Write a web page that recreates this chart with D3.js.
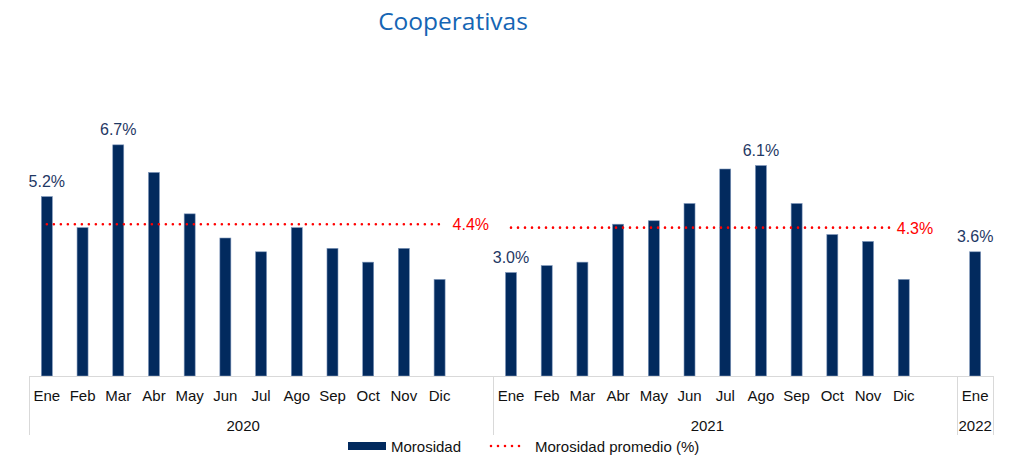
<!DOCTYPE html>
<html>
<head>
<meta charset="utf-8">
<script src="https://cdn.jsdelivr.net/npm/d3@7"></script>
<style>
  html, body { margin: 0; padding: 0; background: #fff; }
  svg { display: block; }
</style>
</head>
<body>
<svg id="chart" width="1017" height="456"></svg>
<script>
// Morosidad mensual de cooperativas
const years = ["2020", "2021", "2022"];
const months2020 = ["Ene", "Feb", "Mar", "Abr", "May", "Jun", "Jul", "Ago", "Sep", "Oct", "Nov", "Dic"];
const values2020 = [5.2, 4.3, 6.7, 5.9, 4.7, 4.0, 3.6, 4.3, 3.7, 3.3, 3.7, 2.8];
const months2021 = ["Ene", "Feb", "Mar", "Abr", "May", "Jun", "Jul", "Ago", "Sep", "Oct", "Nov", "Dic"];
const values2021 = [3.0, 3.2, 3.3, 4.4, 4.5, 5.0, 6.0, 6.1, 5.0, 4.1, 3.9, 2.8];
const months2022 = ["Ene"];
const values2022 = [3.6];

// Promedio anual
const avgYears = ["2020", "2021"];
const avgValues = [4.4, 4.3];

// Barras con etiqueta de valor
const labeledBars = ["2020-Ene", "2020-Mar", "2021-Ene", "2021-Ago", "2022-Ene"];

const NAVY = "#022a5e";
const LABEL_NAVY = "#1f3864";
const RED = "#ff0000";
const FONT = "'Liberation Sans', Arial, sans-serif";

const groups = [
  { year: years[0], months: months2020, values: values2020 },
  { year: years[1], months: months2021, values: values2021 },
  { year: years[2], months: months2022, values: values2022 }
];

// Slots: months of each year, with an empty slot between years
const slots = [];
const bars = [];
groups.forEach((g, gi) => {
  g.months.forEach((m, i) => {
    const key = g.year + "-" + m;
    slots.push(key);
    bars.push({ key, year: g.year, month: m, value: g.values[i] });
  });
  if (gi < groups.length - 1) slots.push("gap-" + g.year);
});

const svg = d3.select("#chart");
const baseY = 376;

const x = d3.scaleBand().domain(slots).range([29, 993]).padding(0);
const y = d3.scaleLinear().domain([0, 8]).range([baseY, baseY - 8 * 34.5]);
const barW = 11;

// Title
svg.append("text")
  .attr("x", 453).attr("y", 30)
  .attr("text-anchor", "middle")
  .attr("font-family", "'Open Sans', 'Noto Sans', sans-serif")
  .attr("font-size", 24.5)
  .attr("fill", "#1565b4")
  .text("Cooperativas");

// Bars
svg.append("g").selectAll("rect").data(bars).join("rect")
  .attr("x", d => x(d.key) + x.bandwidth() / 2 - barW / 2)
  .attr("y", d => y(d.value))
  .attr("width", barW)
  .attr("height", d => y(0) - y(d.value))
  .attr("fill", NAVY)
  .attr("stroke", "#7f97bb")
  .attr("stroke-width", 0.6);

// Value labels
svg.append("g").selectAll("text").data(bars.filter(d => labeledBars.includes(d.key))).join("text")
  .attr("x", d => x(d.key) + x.bandwidth() / 2)
  .attr("y", d => y(d.value) - 10)
  .attr("text-anchor", "middle")
  .attr("font-family", FONT)
  .attr("font-size", 16)
  .attr("fill", LABEL_NAVY)
  .text(d => d.value.toFixed(1) + "%");

// Average lines (dotted) with their labels
const avgTrim = { "2020": 0, "2021": 14 };
const labelGap = { "2020": 13, "2021": 7 };
avgYears.forEach((yr, i) => {
  const g = groups.find(gg => gg.year === yr);
  const x0 = x(yr + "-" + g.months[0]) + x.bandwidth() / 2;
  const x1 = x(yr + "-" + g.months[g.months.length - 1]) + x.bandwidth() / 2 - avgTrim[yr];
  const yy = y(avgValues[i]);
  svg.append("line")
    .attr("x1", x0).attr("x2", x1)
    .attr("y1", yy).attr("y2", yy)
    .attr("stroke", RED)
    .attr("stroke-width", 2.6)
    .attr("stroke-linecap", "round")
    .attr("stroke-dasharray", "0 7");
  svg.append("text")
    .attr("x", x1 + labelGap[yr])
    .attr("y", yy + 6)
    .attr("font-family", FONT)
    .attr("font-size", 16)
    .attr("fill", RED)
    .text(avgValues[i].toFixed(1) + "%");
});

// Category axis
const axisG = svg.append("g");
axisG.append("line")
  .attr("x1", x.range()[0]).attr("x2", x.range()[1])
  .attr("y1", baseY + 0.5).attr("y2", baseY + 0.5)
  .attr("stroke", "#d9d9d9").attr("stroke-width", 1);

axisG.selectAll("text.month").data(bars).join("text")
  .attr("class", "month")
  .attr("x", d => x(d.key) + x.bandwidth() / 2)
  .attr("y", 401)
  .attr("text-anchor", "middle")
  .attr("font-family", FONT)
  .attr("font-size", 15)
  .attr("fill", "#111")
  .text(d => d.month);

// Year group boundaries and labels
const bounds = groups.map((g, gi) => {
  const start = gi === 0 ? x.range()[0] : x("gap-" + groups[gi - 1].year) + x.bandwidth();
  const end = gi < groups.length - 1 ? x("gap-" + g.year) + x.bandwidth() : x.range()[1];
  return { year: g.year, start, end };
});
const sepXs = [bounds[0].start, ...bounds.map(b => b.end)];
axisG.selectAll("line.sep").data(sepXs).join("line")
  .attr("class", "sep")
  .attr("x1", d => Math.round(d) + 0.5).attr("x2", d => Math.round(d) + 0.5)
  .attr("y1", baseY).attr("y2", 435)
  .attr("stroke", "#d9d9d9").attr("stroke-width", 1);

axisG.selectAll("text.year").data(groups).join("text")
  .attr("class", "year")
  .attr("x", g => {
    const f = x(g.year + "-" + g.months[0]);
    const l = x(g.year + "-" + g.months[g.months.length - 1]) + x.bandwidth();
    return (f + l) / 2;
  })
  .attr("y", 431)
  .attr("text-anchor", "middle")
  .attr("font-family", FONT)
  .attr("font-size", 15)
  .attr("fill", "#111")
  .text(g => g.year);

// Legend
const leg = svg.append("g");
leg.append("rect")
  .attr("x", 348).attr("y", 442).attr("width", 38).attr("height", 8)
  .attr("fill", NAVY);
leg.append("text")
  .attr("x", 391).attr("y", 452)
  .attr("font-family", FONT).attr("font-size", 15).attr("fill", "#111")
  .text("Morosidad");
leg.append("line")
  .attr("x1", 491).attr("x2", 526).attr("y1", 446).attr("y2", 446)
  .attr("stroke", RED).attr("stroke-width", 2.6)
  .attr("stroke-linecap", "round").attr("stroke-dasharray", "0 7");
leg.append("text")
  .attr("x", 535).attr("y", 452)
  .attr("font-family", FONT).attr("font-size", 15).attr("fill", "#111")
  .text("Morosidad promedio (%)");
</script>
</body>
</html>
